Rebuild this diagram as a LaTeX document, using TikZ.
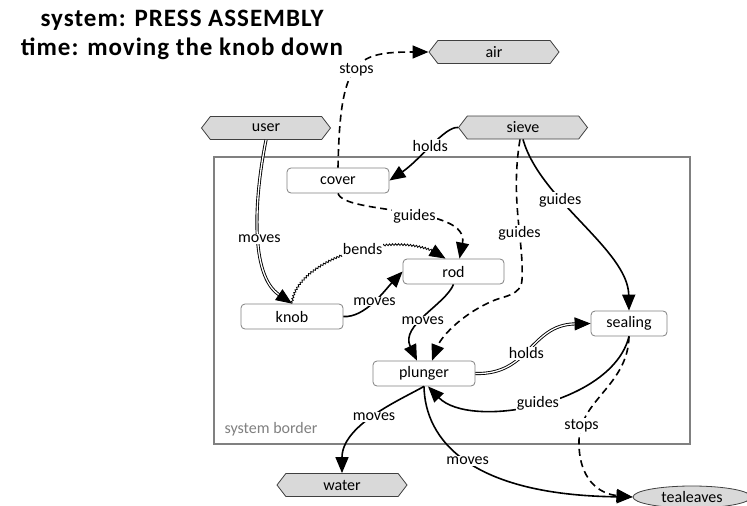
\documentclass[tikz,border=0pt]{standalone}
\usepackage{fontspec}
\setmainfont{Carlito}
\usetikzlibrary{arrows.meta,shapes.symbols,shapes.geometric,decorations.pathmorphing}
\begin{document}
\begin{tikzpicture}[x=1pt,y=-1pt,
  nfont/.style={font=\fontsize{16}{18}\selectfont},
  tfont/.style={font=\bfseries\fontsize{25}{28}\selectfont\addfontfeature{LetterSpace=4}},
  hexa/.style={shape=signal, signal to=west and east, signal from=nowhere, signal pointer angle=105,
    draw=black!75, fill=black!15, line width=0.8pt, minimum height=23pt, inner sep=0pt, nfont},
  comp/.style={draw=black!50, rounded corners=4pt, fill=white, minimum height=25pt,
    line width=0.8pt, inner sep=0pt, nfont},
  lbl/.style={fill=white, inner sep=1pt, nfont},
  tip/.style={-{Triangle[length=16pt,width=13pt]}},
  arr/.style={tip, line width=1.6pt},
  dsh/.style={tip, line width=1.6pt, dash pattern=on 7pt off 4.5pt},
  dbl/.style={tip, double, double distance=1.3pt, line width=0.9pt},
  snk/.style={tip, line width=0.8pt, decorate,
    decoration={snake, amplitude=0.9pt, segment length=3pt, pre length=1pt, post length=10pt}}]
\fill[white] (0,0) rectangle (747,506);
\useasboundingbox (0,0) rectangle (747,506);

\node[tfont, anchor=base, inner sep=0pt] (title1) at (182,27) {system: PRESS ASSEMBLY};
\node[tfont, anchor=base, inner sep=0pt] (title2) at (182,55) {time: moving the knob down};

\node[draw=black!50, line width=2.5pt, minimum width=476pt, minimum height=287pt] (border) at (452,300.5) {};
\node[text=black!50, nfont, anchor=center] (blabel) at (271,429) {system border};

\node[hexa, minimum width=130pt] (air) at (494,52) {air};
\node[hexa, minimum width=129pt] (user) at (266,128) {user};
\node[hexa, minimum width=129pt] (sieve) at (523,127.5) {sieve};
\node[hexa, minimum width=130pt] (water) at (342,485) {water};
\node[comp, minimum width=102pt] (cover) at (338,180.5) {cover};
\node[comp, minimum width=101pt] (rod) at (453.5,271.5) {rod};
\node[comp, minimum width=102pt] (knob) at (292,316.5) {knob};
\node[comp, minimum width=76pt] (sealing) at (629,323.5) {sealing};
\node[comp, minimum width=102pt] (plunger) at (424,373.5) {plunger};
\node[ellipse, draw=black!75, fill=black!15, line width=0.8pt, minimum width=118pt, minimum height=22pt, inner sep=0pt, nfont] (tea) at (692,497) {tealeaves};

% cover stops air
\draw[dsh] (cover.north) .. controls (340,60) and (355,52) .. node[lbl,pos=.5]{stops} (air.west);
% sieve holds cover
\draw[arr] (sieve.west) .. controls (445,126) and (420,160) .. node[lbl,pos=.5]{holds} (cover.east);
% user moves knob
\draw[dbl] (user.south) .. controls (254,200) and (250,275) .. node[lbl,pos=.53]{moves} (knob.north);
% knob bends rod
\draw[snk] (knob.north) .. controls (295,260) and (400,225) .. node[lbl,pos=.55]{bends} ([xshift=-8pt]rod.north);
% cover guides rod
\draw[dsh] (cover.south) .. controls (345,215) and (470,205) .. node[lbl,pos=.55]{guides} ([xshift=6pt]rod.north);
% knob moves rod
\draw[arr] (knob.east) .. controls (365,318) and (385,290) .. node[lbl,pos=.5]{moves} (rod.west);
% rod moves plunger
\draw[arr] (rod.south) .. controls (445,305) and (400,325) .. node[lbl,pos=.55]{moves} ([xshift=-7pt]plunger.north);
% sieve guides plunger
\draw[dsh] ([xshift=-3pt]sieve.south) .. controls (510,200) and (524,240) .. node[lbl,pos=.62]{guides} (522,280)
  .. controls (521,295) and (505,296) .. (495,300)
  .. controls (465,312) and (442,335) .. ([xshift=8pt]plunger.north);
% sieve guides sealing
\draw[arr] (sieve.south) .. controls (540,200) and (628,250) .. node[lbl,pos=.35]{guides} (sealing.north);
% plunger holds sealing
\draw[dbl] (plunger.east) .. controls (530,375) and (530,325) .. node[lbl,pos=.45]{holds} (sealing.west);
% sealing guides plunger
\draw[arr] (sealing.south) .. controls (612,405) and (470,430) .. node[lbl,pos=.5]{guides} ([xshift=4pt]plunger.south);
% sealing stops tealeaves
\draw[dsh] (sealing.south) .. controls (628,385) and (580,400) .. node[lbl,pos=.87]{stops} (579,440)
  .. controls (578,480) and (600,494) .. (tea.west);
% plunger moves water
\draw[arr] (plunger.south) .. controls (400,400) and (342,425) .. node[lbl,pos=.5]{moves} (water.north);
% plunger moves tealeaves
\draw[arr] (plunger.south) .. controls (425,440) and (470,495) .. node[lbl,pos=.5]{moves} (tea.west);
\end{tikzpicture}
\end{document}
